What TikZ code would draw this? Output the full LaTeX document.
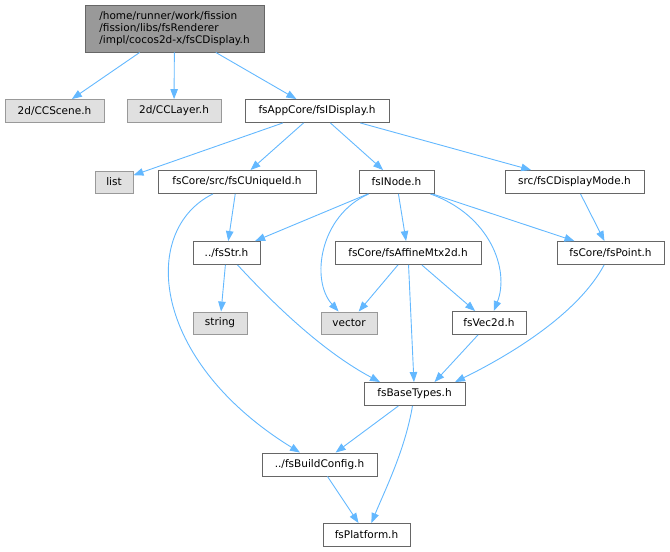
\documentclass[tikz,border=0pt]{standalone}
\usepackage{tikz}
\usepackage{fontspec}
\usetikzlibrary{arrows.meta}
\setmainfont{DejaVu Sans}
\definecolor{edgeblue}{RGB}{99, 184, 255}
\definecolor{boxgray}{RGB}{102, 102, 102}
\definecolor{extgray}{RGB}{224, 224, 224}
\definecolor{extline}{RGB}{153, 153, 153}
\definecolor{rootgray}{RGB}{153, 153, 153}

\begin{document}
\begin{tikzpicture}[x=1pt,y=-1pt,
        font=\fontsize{10.5}{11.8}\selectfont,
        file/.style={draw=boxgray,fill=white,line width=0.9pt,minimum height=23pt,inner sep=0pt},
        extfile/.style={file,draw=extline,fill=extgray},
        rootfile/.style={file,fill=rootgray,align=left,minimum height=47pt},
        dep/.style={draw=edgeblue,line width=0.9pt,-{Triangle[length=10pt,width=7.5pt]}}]
        \useasboundingbox (0,0) rectangle (670,552);

        \node[rootfile,minimum width=179pt] (root) at (174.5,28.5) {/home/runner/work/fission\\/fission/libs/fsRenderer\\/impl/cocos2d-x/fsCDisplay.h};
        \node[extfile,minimum width=99pt] (scene) at (54.5,111) {2d/CCScene.h};
        \node[extfile,minimum width=94pt] (layer) at (174,111) {2d/CCLayer.h};
        \node[file,minimum width=144pt] (idisplay) at (317,111) {fsAppCore/fsIDisplay.h};

        \node[extfile,minimum width=38pt,minimum height=22pt] (list) at (114,182) {list};
        \node[file,minimum width=158pt] (uniqueid) at (237,182) {fsCore/src/fsCUniqueId.h};
        \node[file,minimum width=75pt] (inode) at (396.5,182) {fsINode.h};
        \node[file,minimum width=139pt] (dispmode) at (574.5,182) {src/fsCDisplayMode.h};

        \node[file,minimum width=67pt] (str) at (226.5,253) {../fsStr.h};
        \node[file,minimum width=146pt] (affine) at (408,253) {fsCore/fsAffineMtx2d.h};
        \node[file,minimum width=107pt] (point) at (610.5,253) {fsCore/fsPoint.h};

        \node[extfile,minimum width=54pt,minimum height=22pt] (string) at (220,323) {string};
        \node[extfile,minimum width=56pt,minimum height=22pt] (vector) at (349,323) {vector};
        \node[file,minimum width=74pt] (vecdd) at (489,323) {fsVec2d.h};

        \node[file,minimum width=101pt] (basetypes) at (414.5,394) {fsBaseTypes.h};
        \node[file,minimum width=115pt] (buildcfg) at (319.5,464.5) {../fsBuildConfig.h};
        \node[file,minimum width=87pt] (platform) at (366.5,535) {fsPlatform.h};

        \draw[dep] (root) -- (scene);
        \draw[dep] (root) -- (layer);
        \draw[dep] (root) -- (idisplay);
        \draw[dep] (idisplay) -- (list);
        \draw[dep] (idisplay) -- (uniqueid);
        \draw[dep] (idisplay) -- (inode);
        \draw[dep] (idisplay) -- (dispmode);
        \draw[dep] (uniqueid) -- (str);
        \draw[dep] (uniqueid) .. controls (140,230) and (150,360) .. ([xshift=-19.5pt]buildcfg.north);
        \draw[dep] (inode) -- (str);
        \draw[dep] (inode) .. controls (320,215) and (310,280) .. (vector);
        \draw[dep] (inode) -- (affine);
        \draw[dep] (inode) .. controls (490,215) and (510,270) .. (vecdd);
        \draw[dep] (inode) -- (point);
        \draw[dep] (dispmode) -- (point);
        \draw[dep] (str) -- (string);
        \draw[dep] (str) .. controls (270,300) and (320,350) .. ([xshift=-34.5pt]basetypes.north);
        \draw[dep] (affine) -- (vector);
        \draw[dep] (affine) -- (vecdd);
        \draw[dep] (affine) -- (basetypes);
        \draw[dep] (point) .. controls (580,310) and (520,350) .. ([xshift=40.5pt]basetypes.north);
        \draw[dep] (vecdd) -- ([xshift=20pt]basetypes.north);
        \draw[dep] (basetypes) -- (buildcfg);
        \draw[dep] (basetypes) .. controls (405,450) and (385,490) .. (platform);
        \draw[dep] (buildcfg) -- (platform);
    \end{tikzpicture}
\end{document}
